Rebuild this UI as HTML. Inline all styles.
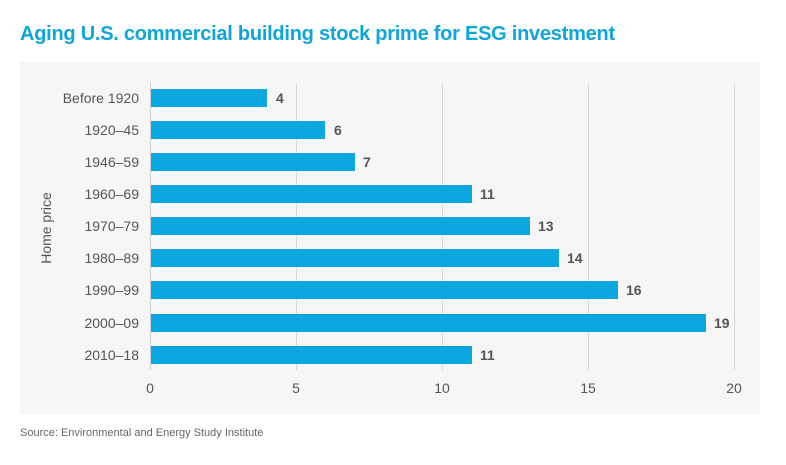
<!DOCTYPE html>
<html><head><style>
body{margin:0;background:#fff;width:786px;height:460px;overflow:hidden;font-family:"Liberation Sans",sans-serif;}
</style></head><body>
<svg width="786" height="460" xmlns="http://www.w3.org/2000/svg" font-family="Liberation Sans, sans-serif">
<text x="20" y="40" font-size="20" font-weight="bold" fill="#0ea5dc" letter-spacing="-0.25">Aging U.S. commercial building stock prime for ESG investment</text>
<rect x="20" y="62" width="740" height="352" fill="#f6f6f6"/>
<g stroke="#d8d8d8" stroke-width="1">
<line x1="296.5" y1="83" x2="296.5" y2="370"/>
<line x1="442.5" y1="83" x2="442.5" y2="370"/>
<line x1="588.5" y1="83" x2="588.5" y2="370"/>
<line x1="734.5" y1="83" x2="734.5" y2="370"/>
<line x1="150.5" y1="83" x2="150.5" y2="370" stroke="#cfcfcf"/>
</g>
<g fill="#0aa6df">
<rect x="151" y="89" width="116" height="18"/>
<rect x="151" y="121" width="174" height="18"/>
<rect x="151" y="153" width="204" height="18"/>
<rect x="151" y="185" width="321" height="18"/>
<rect x="151" y="217" width="379" height="18"/>
<rect x="151" y="249" width="408" height="18"/>
<rect x="151" y="281" width="467" height="18"/>
<rect x="151" y="314" width="555" height="18"/>
<rect x="151" y="346" width="321" height="18"/>
</g>
<g font-size="14" font-weight="bold" fill="#555">
<text x="276" y="103">4</text>
<text x="334" y="135">6</text>
<text x="363" y="167">7</text>
<text x="480" y="199">11</text>
<text x="538" y="231">13</text>
<text x="567" y="263">14</text>
<text x="626" y="295">16</text>
<text x="714" y="328">19</text>
<text x="480" y="360">11</text>
</g>
<g font-size="14" fill="#555" text-anchor="end">
<text x="139" y="103">Before 1920</text>
<text x="139" y="135">1920–45</text>
<text x="139" y="167">1946–59</text>
<text x="139" y="199">1960–69</text>
<text x="139" y="231">1970–79</text>
<text x="139" y="263">1980–89</text>
<text x="139" y="295">1990–99</text>
<text x="139" y="328">2000–09</text>
<text x="139" y="360">2010–18</text>
</g>
<g font-size="14" fill="#555" text-anchor="middle">
<text x="150" y="393">0</text>
<text x="296" y="393">5</text>
<text x="442" y="393">10</text>
<text x="588" y="393">15</text>
<text x="734" y="393">20</text>
</g>
<text transform="translate(51,228) rotate(-90)" font-size="14" fill="#555" text-anchor="middle">Home price</text>
<text x="20" y="436" font-size="11" fill="#666">Source: Environmental and Energy Study Institute</text>
</svg>
</body></html>
